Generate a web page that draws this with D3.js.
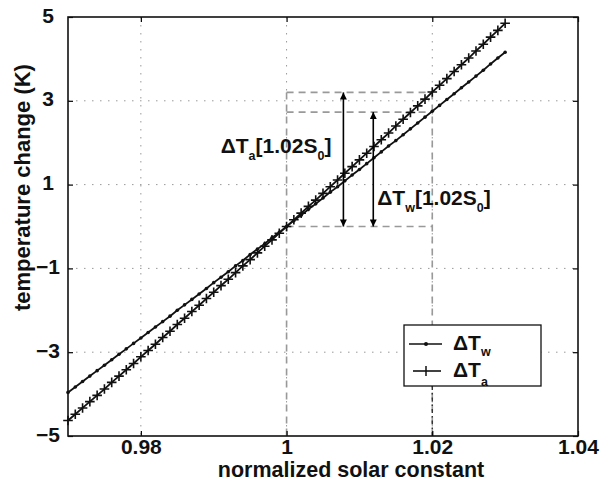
<!DOCTYPE html>
<html>
<head>
<meta charset="utf-8">
<script src="https://cdn.jsdelivr.net/npm/d3@7"></script>
<style>
  body { margin: 0; background: #fff; }
  svg { display: block; font-family: "Liberation Sans", Arial, Helvetica, sans-serif; font-weight: bold; }
</style>
</head>
<body>
<svg id="chart" width="602" height="485"></svg>
<script>
// normalized solar constant (S/S0)
const xs = [0.970, 0.971, 0.972, 0.973, 0.974, 0.975, 0.976, 0.977, 0.978, 0.979,
            0.980, 0.981, 0.982, 0.983, 0.984, 0.985, 0.986, 0.987, 0.988, 0.989,
            0.990, 0.991, 0.992, 0.993, 0.994, 0.995, 0.996, 0.997, 0.998, 0.999,
            1.000, 1.001, 1.002, 1.003, 1.004, 1.005, 1.006, 1.007, 1.008, 1.009,
            1.010, 1.011, 1.012, 1.013, 1.014, 1.015, 1.016, 1.017, 1.018, 1.019,
            1.020, 1.021, 1.022, 1.023, 1.024, 1.025, 1.026, 1.027, 1.028, 1.029,
            1.030];

// temperature change of the world (ΔTw), K
const dTw = [-3.96, -3.83, -3.70, -3.57, -3.44, -3.31, -3.18, -3.05, -2.92, -2.79,
             -2.66, -2.53, -2.40, -2.27, -2.14, -2.00, -1.87, -1.74, -1.61, -1.48,
             -1.34, -1.21, -1.08, -0.94, -0.81, -0.67, -0.54, -0.41, -0.27, -0.14,
              0.00,  0.14,  0.27,  0.41,  0.54,  0.68,  0.82,  0.95,  1.09,  1.23,
              1.36,  1.50,  1.64,  1.78,  1.92,  2.05,  2.19,  2.33,  2.47,  2.61,
              2.75,  2.89,  3.03,  3.17,  3.31,  3.45,  3.59,  3.73,  3.88,  4.02,
              4.16];

// temperature change of the atmosphere (ΔTa), K
const dTa = [-4.63, -4.48, -4.33, -4.18, -4.03, -3.88, -3.72, -3.57, -3.42, -3.27,
             -3.11, -2.96, -2.81, -2.65, -2.50, -2.34, -2.19, -2.03, -1.88, -1.72,
             -1.57, -1.41, -1.26, -1.10, -0.94, -0.79, -0.63, -0.47, -0.32, -0.16,
              0.00,  0.16,  0.32,  0.48,  0.63,  0.79,  0.95,  1.11,  1.27,  1.43,
              1.59,  1.75,  1.91,  2.07,  2.23,  2.40,  2.56,  2.72,  2.88,  3.04,
              3.21,  3.37,  3.53,  3.70,  3.86,  4.02,  4.19,  4.35,  4.52,  4.68,
              4.85];

const xTicks = [0.98, 1.00, 1.02, 1.04];
const xTickLabels = ['0.98', '1', '1.02', '1.04'];
const yTicks = [-5, -3, -1, 1, 3, 5];
const yTickLabels = ['\u22125', '\u22123', '\u22121', '1', '3', '5'];
const xGrid = [0.98, 1.00, 1.02];
const yGrid = [-3, -1, 1, 3];

// reference box: S0 and 1.02 S0, responses at 1.02 S0
const refX = [1.00, 1.02];
const refLevels = [3.20, 2.73, 0];
const arrowX = [1.0078, 1.0119];    // ΔTa arrow, ΔTw arrow
const arrowTop = [3.20, 2.73];
const labelY = [1.75, 0.51];        // baselines of the two annotation labels

const svg = d3.select('#chart');
const margin = { top: 17, right: 24, bottom: 49, left: 68 },
    width = 602 - margin.left - margin.right,
    height = 485 - margin.top - margin.bottom;

const g = svg.append('g').attr('transform', `translate(${margin.left},${margin.top})`);

const x = d3.scaleLinear().domain([0.97, 1.04]).range([0, width]);
const y = d3.scaleLinear().domain([-5, 5]).range([height, 0]);

// arrow head
svg.append('defs').append('marker')
    .attr('id', 'head')
    .attr('viewBox', '0 0 10 10')
    .attr('refX', 10).attr('refY', 5)
    .attr('markerWidth', 10).attr('markerHeight', 7)
    .attr('markerUnits', 'userSpaceOnUse')
    .attr('orient', 'auto-start-reverse')
    .append('path').attr('d', 'M0,0L10,5L0,10z').attr('fill', '#000');

// grid
g.selectAll('.gx').data(xGrid).enter().append('line')
    .attr('x1', d => x(d)).attr('x2', d => x(d))
    .attr('y1', 0).attr('y2', height)
    .attr('stroke', '#999').attr('stroke-width', 1).attr('stroke-dasharray', '1.5,6.5');
g.selectAll('.gy').data(yGrid).enter().append('line')
    .attr('x1', 0).attr('x2', width)
    .attr('y1', d => y(d)).attr('y2', d => y(d))
    .attr('stroke', '#999').attr('stroke-width', 1).attr('stroke-dasharray', '1.5,6.5');

// dashed reference lines
g.selectAll('.rh').data(refLevels).enter().append('line')
    .attr('x1', x(refX[0])).attr('x2', x(refX[1]))
    .attr('y1', d => y(d)).attr('y2', d => y(d))
    .attr('stroke', '#999').attr('stroke-width', 1.6).attr('stroke-dasharray', '7,5');
g.selectAll('.rv').data(refX).enter().append('line')
    .attr('x1', d => x(d)).attr('x2', d => x(d))
    .attr('y1', y(refLevels[0])).attr('y2', height)
    .attr('stroke', '#999').attr('stroke-width', 1.6).attr('stroke-dasharray', '7,5');
// darker dash-dot below legend at 1.02
g.append('line')
    .attr('x1', x(refX[1])).attr('x2', x(refX[1]))
    .attr('y1', 369).attr('y2', height)
    .attr('stroke', '#333').attr('stroke-width', 1.4).attr('stroke-dasharray', '4,3,1.5,3');

// data lines
const line = d3.line().x((d, i) => x(xs[i])).y(d => y(d));
g.append('path').datum(dTw).attr('d', line)
    .attr('fill', 'none').attr('stroke', '#111').attr('stroke-width', 1.8);
g.append('path').datum(dTa).attr('d', line)
    .attr('fill', 'none').attr('stroke', '#111').attr('stroke-width', 1.8);

g.selectAll('.mw').data(dTw).enter().append('circle')
    .attr('cx', (d, i) => x(xs[i])).attr('cy', d => y(d))
    .attr('r', 1.8).attr('fill', '#111');
g.selectAll('.ma').data(dTa).enter().append('path')
    .attr('d', (d, i) => {
        const px = x(xs[i]), py = y(d), s = 4.8;
        return `M${px - s},${py}H${px + s}M${px},${py - s}V${py + s}`;
    })
    .attr('stroke', '#111').attr('stroke-width', 1.6);

// arrows
g.selectAll('.arr').data(arrowX).enter().append('line')
    .attr('x1', d => x(d)).attr('x2', d => x(d))
    .attr('y1', y(0)).attr('y2', (d, i) => y(arrowTop[i]))
    .attr('stroke', '#000').attr('stroke-width', 1.6)
    .attr('marker-start', 'url(#head)').attr('marker-end', 'url(#head)');

// annotation labels
function subLabel(sel, xPos, yPos, sub, anchor) {
    const t = sel.append('text').attr('x', xPos).attr('y', yPos)
        .attr('font-size', 21).attr('text-anchor', anchor || 'start').attr('fill', '#111');
    t.append('tspan').text('\u0394T');
    t.append('tspan').attr('font-size', 12.5).attr('dy', 7).text(sub);
    t.append('tspan').attr('dy', -7).text('[1.02S');
    t.append('tspan').attr('font-size', 12.5).attr('dy', 7).text('0');
    t.append('tspan').attr('dy', -7).text(']');
}
subLabel(g, x(arrowX[0]) - 12, y(labelY[0]), 'a', 'end');
subLabel(g, x(arrowX[1]) + 4, y(labelY[1]), 'w', 'start');

// axes (ticks inward, box on)
const xAxis = g.append('g').attr('transform', `translate(0,${height})`)
    .call(d3.axisBottom(x).tickValues(xTicks).tickSize(-5).tickFormat((d, i) => xTickLabels[i]));
const yAxis = g.append('g')
    .call(d3.axisLeft(y).tickValues(yTicks).tickSize(-5).tickFormat((d, i) => yTickLabels[i]));
g.append('g').call(d3.axisTop(x).tickValues(xTicks).tickSize(-5).tickFormat(''));
g.append('g').attr('transform', `translate(${width},0)`)
    .call(d3.axisRight(y).tickValues(yTicks).tickSize(-5).tickFormat(''));

g.selectAll('.domain').remove();
g.selectAll('.tick line').attr('stroke', '#000').attr('stroke-width', 1.2);

xAxis.selectAll('text')
    .attr('y', 18).attr('dy', 0)
    .attr('font-size', 21).attr('font-family', null).attr('fill', '#111');
yAxis.selectAll('text')
    .attr('x', -20).attr('dy', '0.24em')
    .attr('text-anchor', 'middle')
    .attr('font-size', 21).attr('font-family', null).attr('fill', '#111');
g.selectAll('.tick text').attr('font-weight', 'bold');

// frame
g.append('rect').attr('width', width).attr('height', height)
    .attr('fill', 'none').attr('stroke', '#111').attr('stroke-width', 1.6);

// legend
const lg = svg.append('g');
lg.append('rect').attr('x', 404).attr('y', 325).attr('width', 137).attr('height', 61)
    .attr('fill', '#fff').attr('stroke', '#111').attr('stroke-width', 1.3);
lg.append('line').attr('x1', 409).attr('x2', 442).attr('y1', 344).attr('y2', 344)
    .attr('stroke', '#111').attr('stroke-width', 1.6);
lg.append('circle').attr('cx', 426).attr('cy', 344).attr('r', 2).attr('fill', '#111');
lg.append('line').attr('x1', 413).attr('x2', 441).attr('y1', 371).attr('y2', 371)
    .attr('stroke', '#111').attr('stroke-width', 1.6);
lg.append('line').attr('x1', 426).attr('x2', 426).attr('y1', 366).attr('y2', 376)
    .attr('stroke', '#111').attr('stroke-width', 1.5);
const l1 = lg.append('text').attr('x', 453).attr('y', 350).attr('font-size', 21).attr('fill', '#111');
l1.append('tspan').text('\u0394T');
l1.append('tspan').attr('font-size', 12.5).attr('dy', 6).text('w');
const l2 = lg.append('text').attr('x', 453).attr('y', 377).attr('font-size', 21).attr('fill', '#111');
l2.append('tspan').text('\u0394T');
l2.append('tspan').attr('font-size', 12.5).attr('dy', 9).text('a');

// axis labels
svg.append('text').attr('x', 351).attr('y', 477).attr('text-anchor', 'middle')
    .attr('font-size', 21.5).attr('fill', '#111').text('normalized solar constant');
svg.append('text').attr('transform', 'translate(30,311) rotate(-90)')
    .attr('text-anchor', 'start').attr('font-size', 22).attr('fill', '#111')
    .text('temperature change (K)');
</script>
</body>
</html>
